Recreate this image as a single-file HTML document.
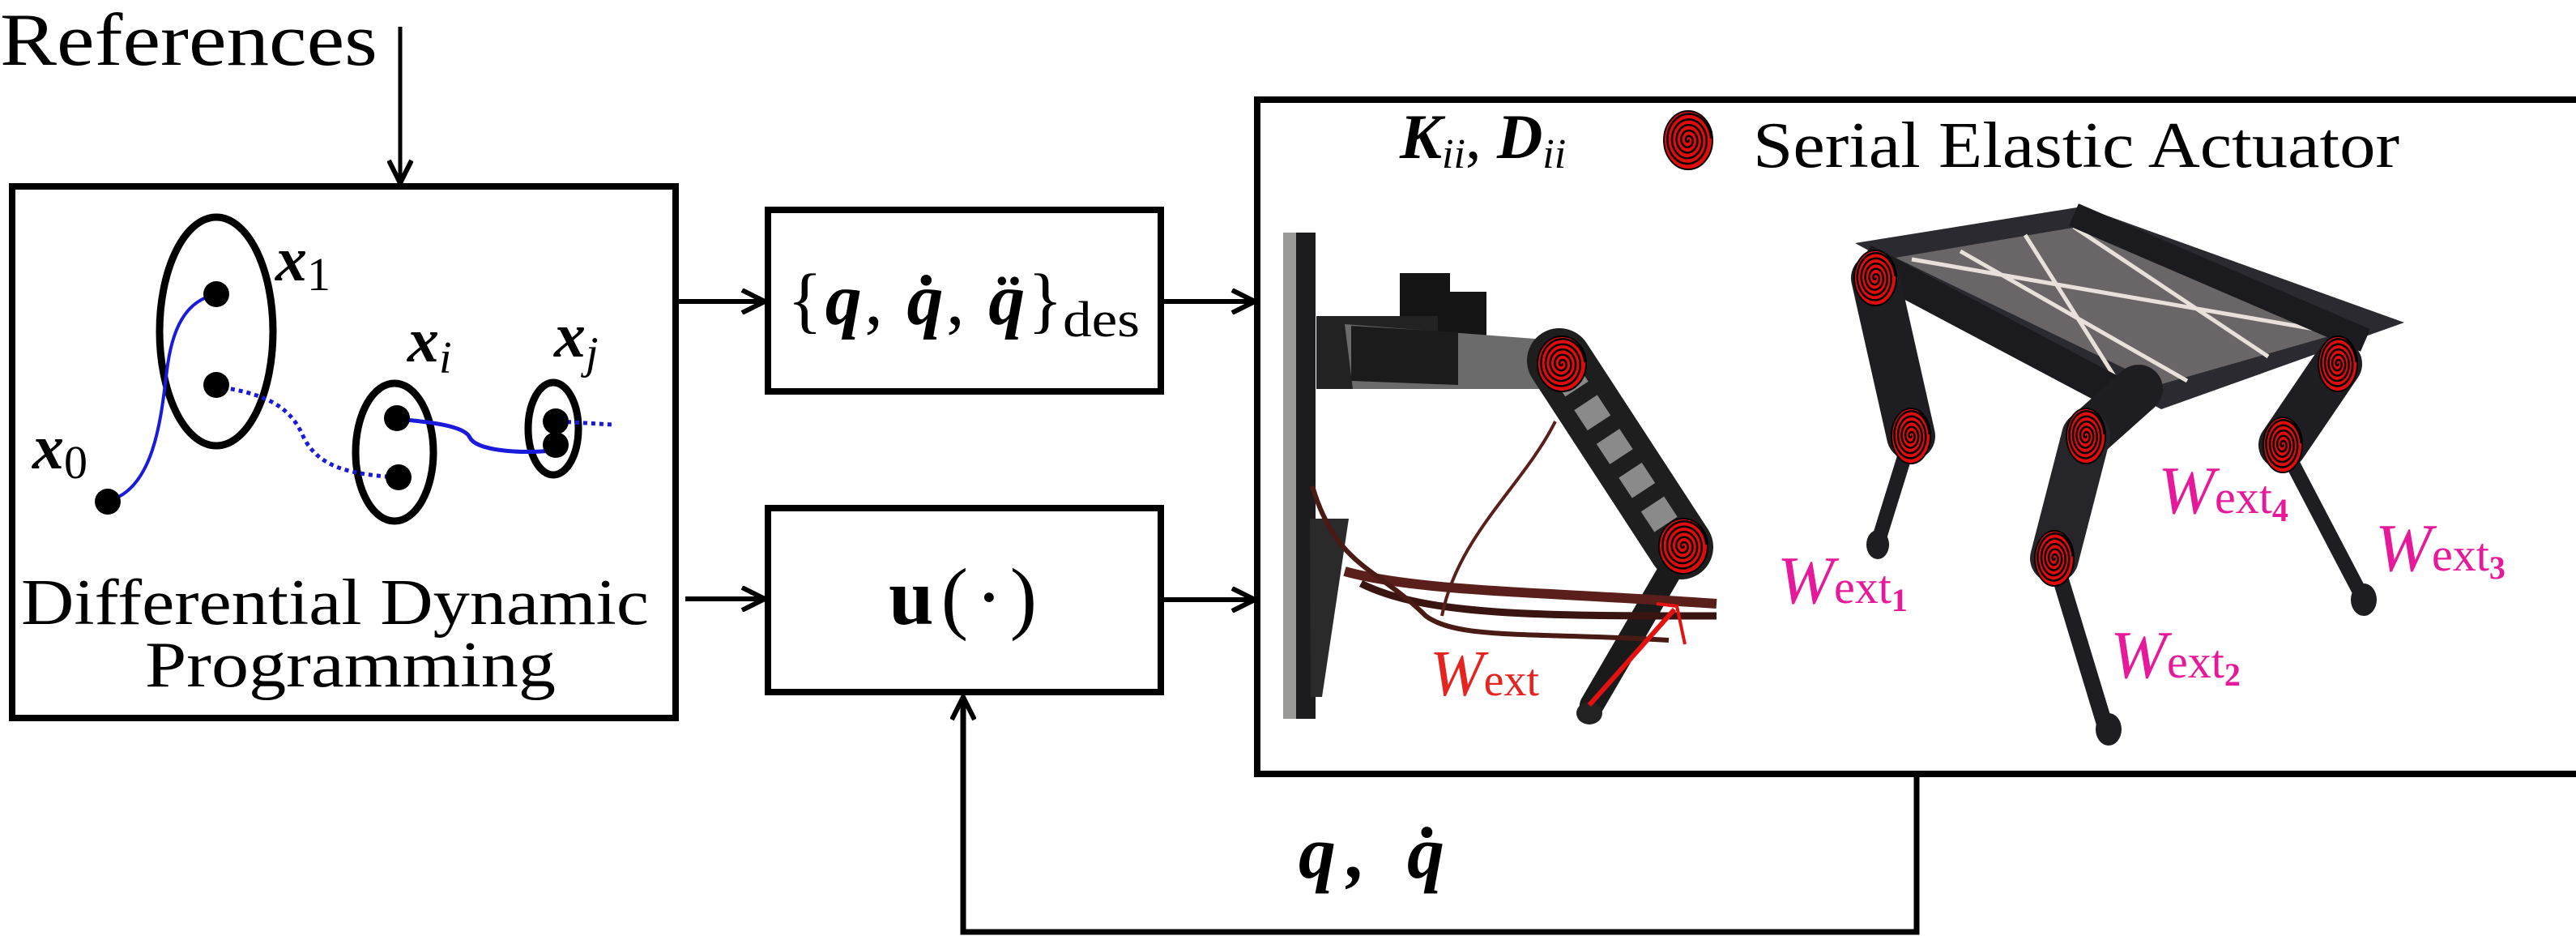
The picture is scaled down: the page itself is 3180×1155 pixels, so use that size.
<!DOCTYPE html>
<html><head><meta charset="utf-8"><style>
html,body{margin:0;padding:0;background:#fff;}
svg{display:block;}
text{font-family:"Liberation Serif","DejaVu Serif",serif;}
</style></head><body>
<svg width="3180" height="1155" viewBox="0 0 3180 1155" xmlns="http://www.w3.org/2000/svg" font-family="Liberation Serif, DejaVu Serif, serif">
<defs>
<marker id="ahb" viewBox="0 0 32 32" refX="30" refY="16" markerWidth="32" markerHeight="32" markerUnits="userSpaceOnUse" orient="auto">
<path d="M2,2 L30,16 L2,30" fill="none" stroke="#000" stroke-width="6"/>
</marker>
</defs>

<text x="0" y="80" font-size="92" textLength="466" lengthAdjust="spacingAndGlyphs">References</text>
<line x1="494" y1="33" x2="494" y2="226" stroke="#000" stroke-width="5" marker-end="url(#ahb)"/>

<rect x="15" y="230" width="819" height="656" fill="none" stroke="#000" stroke-width="8"/>
<g>
<ellipse cx="267" cy="409" rx="70" ry="141" fill="none" stroke="#000" stroke-width="9"/>
<ellipse cx="487" cy="558" rx="48" ry="85" fill="none" stroke="#000" stroke-width="9"/>
<ellipse cx="683" cy="529" rx="31" ry="57" fill="none" stroke="#000" stroke-width="9"/>
<path d="M140,616 C195,595 200,500 207,450 C215,395 235,370 267,363" fill="none" stroke="#1a1adc" stroke-width="4"/>
<path d="M275,478 C335,488 360,505 375,540 C395,580 440,585 487,589" fill="none" stroke="#1a1adc" stroke-width="5" stroke-dasharray="5,5"/>
<path d="M500,518 C545,522 575,528 580,540 C588,556 640,560 682,556" fill="none" stroke="#1a1adc" stroke-width="5"/>
<path d="M690,520 L756,524" fill="none" stroke="#1a1adc" stroke-width="5" stroke-dasharray="5,5"/>
<circle cx="133" cy="619" r="16"/>
<circle cx="267" cy="363" r="16"/>
<circle cx="267" cy="475" r="16"/>
<circle cx="490" cy="516" r="16"/>
<circle cx="492" cy="589" r="16"/>
<circle cx="686" cy="520" r="16"/>
<circle cx="686" cy="549" r="16"/>
<text x="340" y="346" font-size="78" font-weight="bold" font-style="italic">x<tspan font-size="58" font-weight="normal" font-style="normal" dy="12">1</tspan></text>
<text x="503" y="446" font-size="78" font-weight="bold" font-style="italic">x<tspan font-size="56" font-weight="normal" dy="14">i</tspan></text>
<text x="684" y="440" font-size="78" font-weight="bold" font-style="italic">x<tspan font-size="56" font-weight="normal" dy="14">j</tspan></text>
<text x="40" y="578" font-size="78" font-weight="bold" font-style="italic">x<tspan font-size="58" font-weight="normal" font-style="normal" dy="12">0</tspan></text>
</g>
<text x="26" y="770" font-size="80" textLength="775" lengthAdjust="spacingAndGlyphs">Differential Dynamic</text>
<text x="179" y="847" font-size="80" textLength="507" lengthAdjust="spacingAndGlyphs">Programming</text>

<line x1="837" y1="372" x2="944" y2="372" stroke="#000" stroke-width="6" marker-end="url(#ahb)"/>
<line x1="846" y1="739" x2="944" y2="739" stroke="#000" stroke-width="6" marker-end="url(#ahb)"/>

<rect x="948" y="259" width="485" height="224" fill="none" stroke="#000" stroke-width="8"/>
<text x="972" y="400" font-size="90" textLength="340" lengthAdjust="spacing">{<tspan font-weight="bold" font-style="italic">q</tspan>,  <tspan font-weight="bold" font-style="italic">q̇</tspan>, <tspan font-weight="bold" font-style="italic">q̈</tspan>}</text>
<text x="1312" y="415" font-size="62" textLength="95" lengthAdjust="spacingAndGlyphs">des</text>

<rect x="948" y="627" width="485" height="227" fill="none" stroke="#000" stroke-width="8"/>
<text x="1097" y="770" font-size="100" textLength="183" lengthAdjust="spacing"><tspan font-weight="bold">u</tspan>(·)</text>

<line x1="1433" y1="372" x2="1549" y2="372" stroke="#000" stroke-width="6" marker-end="url(#ahb)"/>
<line x1="1433" y1="740" x2="1549" y2="740" stroke="#000" stroke-width="6" marker-end="url(#ahb)"/>

<polyline points="2366,955 2366,1150 1189,1150 1189,860" fill="none" stroke="#000" stroke-width="7" marker-end="url(#ahb)"/>
<text x="1603" y="1083" font-size="92" font-weight="bold" font-style="italic" textLength="180" lengthAdjust="spacing">q,  q̇</text>

<g>
<g>
<rect x="1584" y="287" width="20" height="600" fill="#9a9a98"/>
<rect x="1600" y="287" width="24" height="600" fill="#1c1c1e"/>
<path d="M1617,640 L1665,640 L1632,860 L1618,860 Z" fill="#2a2a2a"/>
<path d="M1728,337 L1790,337 L1790,360 L1835,360 L1835,455 L1728,455 Z" fill="#141414"/>
<rect x="1625" y="390" width="150" height="90" fill="#222"/>
<path d="M1660,400 L1920,420 L1935,480 L1670,480 Z" fill="#6b6b6b"/>
<path d="M1668,402 L1800,410 L1800,475 L1668,470 Z" fill="#1b1b1b"/>
<line x1="1925" y1="445" x2="2075" y2="675" stroke="#1e1e1e" stroke-width="80" stroke-linecap="round"/>
<line x1="1930" y1="455" x2="2065" y2="660" stroke="#8a8a8a" stroke-width="34" stroke-dasharray="30,20"/>
<line x1="2070" y1="690" x2="1965" y2="870" stroke="#1a1a1a" stroke-width="30" stroke-linecap="round"/>
<ellipse cx="1962" cy="880" rx="16" ry="14" fill="#222"/>
<path d="M1660,705 C1750,730 1900,730 2119,745" fill="none" stroke="#5a1f1a" stroke-width="12"/>
<path d="M1680,720 C1760,760 1900,760 2119,760" fill="none" stroke="#3a1410" stroke-width="9"/>
<path d="M1620,600 C1650,700 1700,700 1760,760 C1800,790 1900,780 2060,790" fill="none" stroke="#4a1a15" stroke-width="6"/>
<path d="M1780,760 C1800,660 1880,600 1920,520" fill="none" stroke="#5a1f1a" stroke-width="4"/>
<line x1="1962" y1="870" x2="2067" y2="752" stroke="#e31212" stroke-width="6"/>
<path d="M2045,745 L2070,748 L2080,795" fill="none" stroke="#e31212" stroke-width="4"/>
<text x="1765" y="858" font-size="80" font-style="italic" fill="#e52420">W<tspan font-size="56" font-style="normal">ext</tspan></text>
</g>
<g>
<path d="M2290,300 L2570,255 L2968,398 L2668,505 Z" fill="#2a2a30"/>
<path d="M2340,318 L2565,280 L2910,405 L2665,475 Z" fill="#b8b0aa" opacity="0.45"/>
<path d="M2360,320 L2880,410 M2420,310 L2700,470 M2500,290 L2620,480 M2560,280 L2800,440" stroke="#e8e0da" stroke-width="5" fill="none"/>
<line x1="2300" y1="320" x2="2640" y2="500" stroke="#1b1b1f" stroke-width="40"/>
<line x1="2560" y1="265" x2="2920" y2="420" stroke="#1b1b1f" stroke-width="30"/>
<line x1="2315" y1="343" x2="2359" y2="538" stroke="#1e1e22" stroke-width="60" stroke-linecap="round"/>
<line x1="2359" y1="538" x2="2318" y2="670" stroke="#1e1e22" stroke-width="18" stroke-linecap="round"/>
<line x1="2640" y1="480" x2="2575" y2="538" stroke="#1e1e22" stroke-width="60" stroke-linecap="round"/>
<line x1="2575" y1="538" x2="2536" y2="689" stroke="#26262a" stroke-width="60" stroke-linecap="round"/>
<line x1="2536" y1="689" x2="2600" y2="900" stroke="#1e1e22" stroke-width="20" stroke-linecap="round"/>
<line x1="2886" y1="449" x2="2818" y2="549" stroke="#1e1e22" stroke-width="60" stroke-linecap="round"/>
<line x1="2818" y1="549" x2="2918" y2="740" stroke="#1e1e22" stroke-width="18" stroke-linecap="round"/>
<ellipse cx="2318" cy="672" rx="14" ry="18" fill="#1e1e22"/>
<ellipse cx="2603" cy="900" rx="16" ry="20" fill="#1e1e22"/>
<ellipse cx="2918" cy="740" rx="16" ry="20" fill="#1e1e22"/>
<text x="2194" y="744" font-size="84" font-style="italic" fill="#e5199a">W<tspan font-size="58" font-style="normal">ext</tspan><tspan font-size="40" font-weight="bold" font-style="normal" dy="10">1</tspan></text>
<text x="2605" y="836" font-size="84" font-style="italic" fill="#e5199a">W<tspan font-size="58" font-style="normal">ext</tspan><tspan font-size="40" font-weight="bold" font-style="normal" dy="10">2</tspan></text>
<text x="2932" y="704" font-size="84" font-style="italic" fill="#e5199a">W<tspan font-size="58" font-style="normal">ext</tspan><tspan font-size="40" font-weight="bold" font-style="normal" dy="10">3</tspan></text>
<text x="2664" y="633" font-size="84" font-style="italic" fill="#e5199a">W<tspan font-size="58" font-style="normal">ext</tspan><tspan font-size="40" font-weight="bold" font-style="normal" dy="10">4</tspan></text>
</g>
<g id="spirals"></g>
</g>

<rect x="1552" y="123" width="1640" height="832" fill="none" stroke="#000" stroke-width="8"/>
<text x="1728" y="195" font-size="78" font-weight="bold" font-style="italic">K<tspan font-size="52" font-weight="normal" dy="12">ii</tspan><tspan font-weight="normal" font-style="normal" dy="-12">, </tspan>D<tspan font-size="52" font-weight="normal" dy="12">ii</tspan></text>
<text x="2164" y="206" font-size="80" textLength="798" lengthAdjust="spacingAndGlyphs">Serial Elastic Actuator</text>
</svg>
<script>
var NS='http://www.w3.org/2000/svg';
var spiralCenters=[[2084,173,30,36,'legend-spiral'],[1928,449,30,34,'spiral-leg-hip'],[2078,674,30,34,'spiral-leg-knee'],[2315,343,26,34,'spiral-quad-1'],[2359,538,24,34,'spiral-quad-2'],[2575,538,24,34,'spiral-quad-3'],[2818,549,24,34,'spiral-quad-4'],[2886,449,24,34,'spiral-quad-5'],[2536,689,24,34,'spiral-quad-6']];
var g=document.getElementById('spirals');
spiralCenters.forEach(function(s){
  var c=document.createElementNS(NS,'ellipse');
  
  
  c.setAttribute('cx',s[0]);c.setAttribute('cy',s[1]);c.setAttribute('rx',s[2]);c.setAttribute('ry',s[3]);
  c.setAttribute('fill','#e00c0c');c.setAttribute('stroke','#000');c.setAttribute('stroke-width','2');
  g.appendChild(c);
  var d='';
  for(var t=0;t<=5*2*Math.PI;t+=0.15){
    var r=t/(10*Math.PI);
    var x=s[0]+r*s[2]*0.95*Math.cos(t), y=s[1]+r*s[3]*0.95*Math.sin(t);
    d+=(d?'L':'M')+x.toFixed(1)+','+y.toFixed(1);
  }
  var p=document.createElementNS(NS,'path');
  
  
  p.setAttribute('d',d);p.setAttribute('fill','none');p.setAttribute('stroke','#000');p.setAttribute('stroke-width','2.5');
  g.appendChild(p);
});
</script>
</body></html>
